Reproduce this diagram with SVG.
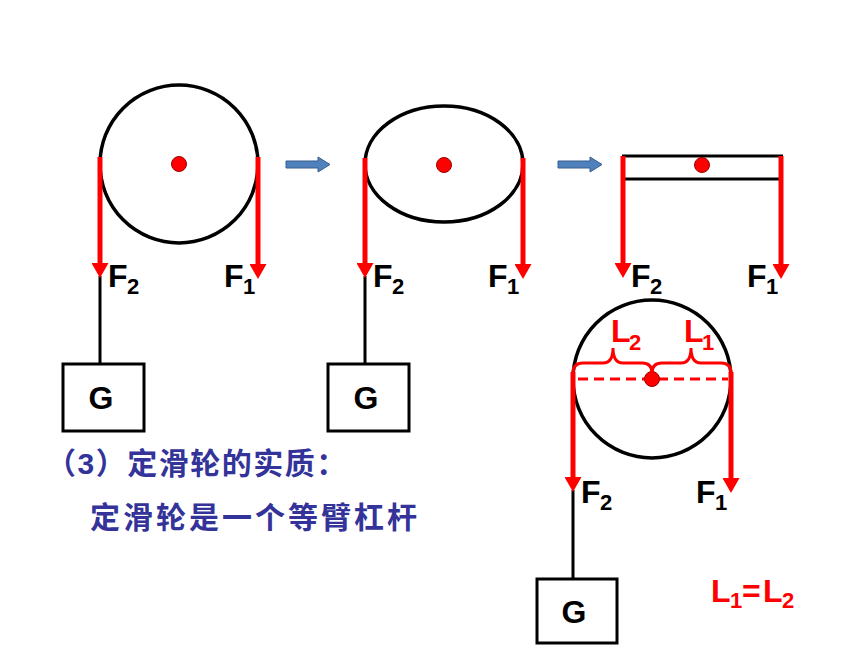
<svg xmlns="http://www.w3.org/2000/svg" width="860" height="645" viewBox="0 0 860 645">
<style>
.wheel{fill:none;stroke:#000;stroke-width:3.5}
.rope{stroke:#000;stroke-width:3;fill:none}
.box{fill:#fff;stroke:#000;stroke-width:3}
.force{stroke:#f00;stroke-width:5;fill:none}
.axle{fill:#f00;stroke:#900;stroke-width:1}
.lab{font-family:"Liberation Sans",Arial,sans-serif;font-weight:bold;font-size:32px;fill:#000}
.sub{font-size:22px}
.g{font-family:"Liberation Sans",Arial,sans-serif;font-weight:bold;font-size:32px;fill:#000;text-anchor:middle}
.red{fill:#f00}
.brace{fill:none;stroke:#f00;stroke-width:3}
.dash{stroke:#f00;stroke-width:3;stroke-dasharray:10 6}
.cn{font-family:"Liberation Sans","Noto Sans CJK SC",sans-serif;font-weight:bold;font-size:30px;fill:#333399}
.blue{fill:#4f81bd;stroke:#385d8a;stroke-width:1}
</style>
<defs>
<marker id="ah" markerUnits="userSpaceOnUse" markerWidth="15" markerHeight="17" viewBox="0 0 15 17" refX="0" refY="8.5" orient="auto">
<path d="M0,0 L15,8.5 L0,17 Z" fill="#f00"/>
</marker>
</defs>

<g id="pulley1">
<circle class="wheel" cx="179" cy="164" r="79"/>
<circle class="axle" cx="179" cy="164" r="7.5"/>
<line class="rope" x1="100" y1="276" x2="100" y2="364"/>
<rect class="box" x="63" y="364" width="81" height="67"/>
<text class="g" x="101" y="409">G</text>
</g>

<g id="pulley2">
<ellipse class="wheel" cx="444" cy="164" rx="79" ry="58"/>
<circle class="axle" cx="444" cy="165" r="7.5"/>
<line class="rope" x1="365" y1="276" x2="365" y2="364"/>
<rect class="box" x="328" y="364" width="81" height="67"/>
<text class="g" x="366" y="409">G</text>
</g>

<g id="lever">
<line class="rope" x1="622" y1="156" x2="783" y2="156"/>
<line class="rope" x1="625" y1="179" x2="779" y2="179"/>
<circle class="axle" cx="702" cy="165" r="7.5"/>
</g>

<g id="pulley4">
<circle class="wheel" cx="652" cy="379" r="79"/>
<line class="dash" x1="578" y1="379" x2="728" y2="379"/>
<circle class="axle" cx="652" cy="379" r="7.5"/>
<path class="brace" d="M573,373 Q573,363 583,363 L603,363 Q613,363 613,348 Q613,363 623,363 L642,363 Q652,363 652,373"/>
<path class="brace" d="M652,373 Q652,363 662,363 L681,363 Q691,363 691,348 Q691,363 701,363 L721,363 Q731,363 731,373"/>
<text class="lab red" x="611" y="342">L<tspan class="sub" x="629" y="350">2</tspan></text>
<text class="lab red" x="684" y="342">L<tspan class="sub" x="702" y="350">1</tspan></text>
<line class="rope" x1="573" y1="490" x2="573" y2="579"/>
<rect class="box" x="537" y="579" width="80" height="64"/>
<text class="g" x="574" y="623">G</text>
</g>

<g id="connectors">
<polygon class="blue" points="286,161 318,161 318,157 330,164.5 318,172 318,168 286,168"/>
<polygon class="blue" points="558,161 590,161 590,157 602,164.5 590,172 590,168 558,168"/>
<line class="force" x1="100" y1="157" x2="100" y2="263" marker-end="url(#ah)"/>
<line class="force" x1="258" y1="157" x2="258" y2="264" marker-end="url(#ah)"/>
<line class="force" x1="365" y1="158" x2="365" y2="263" marker-end="url(#ah)"/>
<line class="force" x1="523" y1="158" x2="523" y2="264" marker-end="url(#ah)"/>
<line class="force" x1="623" y1="156" x2="623" y2="263" marker-end="url(#ah)"/>
<line class="force" x1="781" y1="156" x2="781" y2="264" marker-end="url(#ah)"/>
<line class="force" x1="573" y1="372" x2="573" y2="477" marker-end="url(#ah)"/>
<line class="force" x1="731" y1="372" x2="731" y2="478" marker-end="url(#ah)"/>
</g>

<g id="labels">
<text class="lab" x="108" y="287">F<tspan class="sub" x="127" y="294">2</tspan></text>
<text class="lab" x="224" y="287">F<tspan class="sub" x="243" y="294">1</tspan></text>
<text class="lab" x="373" y="287">F<tspan class="sub" x="392" y="294">2</tspan></text>
<text class="lab" x="488" y="287">F<tspan class="sub" x="507" y="294">1</tspan></text>
<text class="lab" x="631" y="287">F<tspan class="sub" x="650" y="294">2</tspan></text>
<text class="lab" x="747" y="287">F<tspan class="sub" x="766" y="294">1</tspan></text>
<text class="lab" x="581" y="503">F<tspan class="sub" x="600" y="510">2</tspan></text>
<text class="lab" x="696" y="503">F<tspan class="sub" x="715" y="510">1</tspan></text>
<text class="lab red" x="711" y="602">L<tspan class="sub" x="730" y="608">1</tspan><tspan x="742" y="602">=</tspan><tspan x="763" y="602">L</tspan><tspan class="sub" x="782" y="608">2</tspan></text>
</g>

<g id="caption">
<text class="cn" x="46" y="474" letter-spacing="1.5">（3）定滑轮的实质：</text>
<text class="cn" x="90" y="528" letter-spacing="3">定滑轮是一个等臂杠杆</text>
</g>
</svg>
